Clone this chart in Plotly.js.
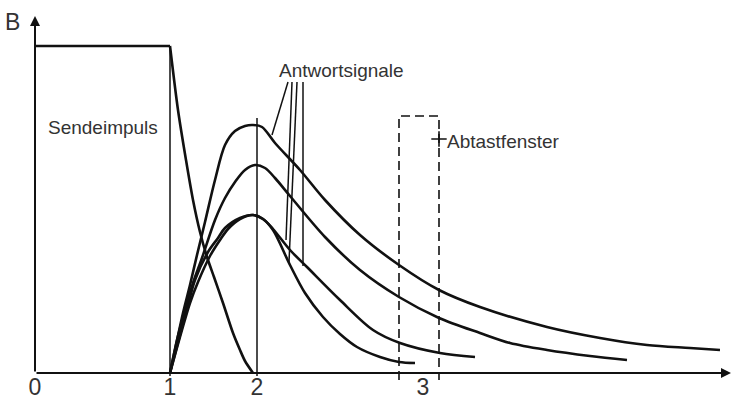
<!DOCTYPE html>
<html>
<head>
<meta charset="utf-8">
<script src="https://cdn.plot.ly/plotly-3.0.1.min.js"></script>
<style>html,body{margin:0;padding:0;background:#fff;}#chart{width:733px;height:400px;}</style>
</head>
<body>
<div id="chart"></div>
<script>
// Schematic values (arbitrary units: t to the right, B upward)
const pulseX = [0, 135];
const pulseY = [327, 327];
const pulseDecayX = [135, 143, 151, 158, 165, 172, 179, 188, 198, 205, 210, 218];
const pulseDecayY = [327, 263, 213, 173, 141, 116, 96, 70, 40, 23, 12, 0];

const respAX = [135, 141, 148, 155, 162, 170, 180, 190, 200, 210, 218, 227, 240, 265, 290, 325, 364, 404, 445, 512, 565, 612, 655, 685];
const respAY = [0, 28, 60, 88, 118, 151, 193, 228, 242, 247, 248, 246, 230, 203, 173, 138, 108, 83, 66, 46, 35, 28, 25, 23];
const respBX = [135, 142, 150, 158, 167, 180, 190, 200, 210, 220, 230, 240, 255, 290, 325, 364, 404, 445, 475, 512, 555, 592];
const respBY = [0, 33, 63, 90, 115, 153, 175, 191, 203, 208, 205, 195, 177, 136, 103, 76, 55, 40, 30, 23, 17, 13];
const respCX = [135, 145, 153, 160, 173, 183, 190, 205, 218, 228, 238, 255, 270, 288, 305, 322, 345, 364, 380];
const respCY = [0, 38, 68, 93, 121, 135, 145, 155, 158, 154, 143, 108, 80, 56, 39, 26, 16, 11, 10];
const respDX = [135, 147, 155, 163, 175, 185, 193, 205, 218, 228, 238, 255, 272, 305, 338, 365, 405, 440];
const respDY = [0, 43, 70, 91, 117, 133, 144, 154, 158, 154, 144, 123, 106, 73, 43, 30, 20, 16];

const markerT = [135, 222];        // vertical guide lines at t = 1 and t = 2
const markerTop = [327, 255];
const windowX = [364, 364, 404, 404];   // Abtastfenster
const windowY = [-7, 257, 257, -7];
const windowMark = [404, 234];

const leaderX = [[253, 237], [257, 251], [262, 254], [268, 268]];
const leaderY = [[291, 238], [291, 133], [291, 111], [291, 107]];

const tickPositions = [0, 135, 222, 388];
const tickLabels = ['0', '1', '2', '3'];

const ink = '#111';
const txt = '#333';
const fontFam = 'Liberation Sans, Arial, sans-serif';

const traces = [];
const thick = {color: ink, width: 2.6};
const thin = {color: ink, width: 1.5};

traces.push({x: pulseX, y: pulseY, mode: 'lines', line: thick});
traces.push({x: pulseDecayX, y: pulseDecayY, mode: 'lines', line: Object.assign({shape: 'spline', smoothing: 0.8}, thick)});
[[respAX, respAY], [respBX, respBY], [respCX, respCY], [respDX, respDY]].forEach(function (r) {
  traces.push({x: r[0], y: r[1], mode: 'lines', line: Object.assign({shape: 'spline', smoothing: 0.9}, thick)});
});
markerT.forEach(function (t, i) {
  traces.push({x: [t, t], y: [-3, markerTop[i]], mode: 'lines', line: thin});
});
traces.push({x: windowX, y: windowY, mode: 'lines', line: {color: ink, width: 1.6, dash: '9px,5px'}});
traces.push({x: [windowMark[0]], y: [windowMark[1]], mode: 'markers',
  marker: {symbol: 'cross-thin-open', size: 11, color: ink, line: {color: ink, width: 1.6}}});
leaderX.forEach(function (lx, i) {
  traces.push({x: lx, y: leaderY[i], mode: 'lines', line: thin});
});

const W = 733, H = 400, bottomMargin = 19;
const xmin = -35, xmax = W - 35;
const ymin = -8, ymax = 373;

const layout = {
  width: W, height: H,
  margin: {l: 0, r: 0, t: 0, b: bottomMargin},
  paper_bgcolor: '#fff', plot_bgcolor: '#fff',
  showlegend: false,
  xaxis: {range: [xmin, xmax], showgrid: false, zeroline: false, showline: false,
    tickvals: tickPositions, ticktext: tickLabels, ticks: '', ticklabelstandoff: -10,
    tickfont: {family: fontFam, size: 23, color: txt}, fixedrange: true},
  yaxis: {range: [ymin, ymax], visible: false, fixedrange: true},
  annotations: [
    {x: 696, y: 0, ax: 0, ay: 0, axref: 'x', ayref: 'y', xref: 'x', yref: 'y', text: '',
      showarrow: true, arrowhead: 2, arrowsize: 1, arrowwidth: 2, arrowcolor: ink, standoff: 0},
    {x: 0, y: 357, ax: 0, ay: 0, axref: 'x', ayref: 'y', xref: 'x', yref: 'y', text: '',
      showarrow: true, arrowhead: 2, arrowsize: 1, arrowwidth: 2, arrowcolor: ink, standoff: 0},
    {x: -23, y: 351, xref: 'x', yref: 'y', text: 'B', showarrow: false,
      font: {family: fontFam, size: 23, color: txt}},
    {x: 692, y: -15, xref: 'x', yref: 'y', text: 't', showarrow: false,
      font: {family: fontFam, size: 23, color: txt}},
    {x: 68, y: 246, xref: 'x', yref: 'y', text: 'Sendeimpuls', showarrow: false,
      font: {family: fontFam, size: 19, color: txt}},
    {x: 306, y: 303, xref: 'x', yref: 'y', text: 'Antwortsignale', showarrow: false,
      font: {family: fontFam, size: 19, color: txt}},
    {x: 410, y: 232, xref: 'x', yref: 'y', text: 'Abtastfenster', showarrow: false, xanchor: 'left',
      font: {family: fontFam, size: 19, color: txt}}
  ]
};

Plotly.newPlot('chart', traces, layout, {displayModeBar: false, staticPlot: true});
</script>
</body>
</html>
